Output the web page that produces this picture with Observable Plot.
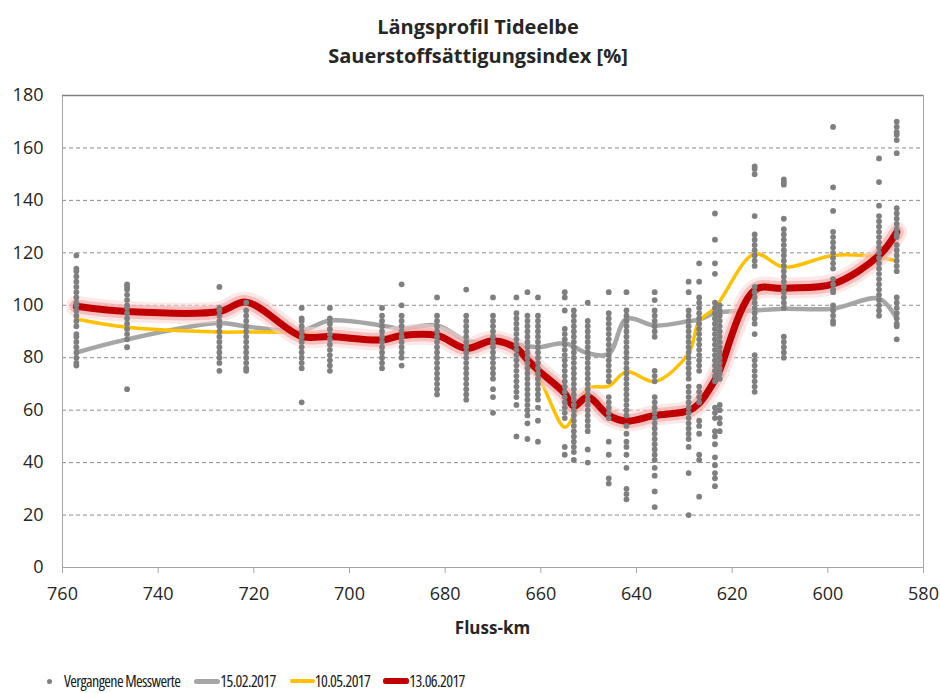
<!DOCTYPE html>
<html>
<head>
<meta charset="utf-8">
<script src="https://cdn.jsdelivr.net/npm/d3@7"></script>
<script src="https://cdn.jsdelivr.net/npm/@observablehq/plot@0.6"></script>
<style>
  html, body { margin: 0; padding: 0; background: #fff; }
  #wrap { position: relative; width: 940px; height: 693px; font-family: "Open Sans", sans-serif; color: #262626; }
  #title { height: 80px; width: 940px; position: relative; }
  #title div { position: absolute; left: 0; width: 956px; text-align: center; font-weight: bold; font-size: 20px; white-space: nowrap; }
  #xlabel { height: 35px; width: 940px; position: relative; }
  #xlabel div { position: absolute; left: 62px; width: 861px; text-align: center; font-weight: bold; font-size: 17px; top: 6px; }
  #legend { height: 48px; width: 940px; display: flex; align-items: center; padding-left: 47px; padding-top: 24px; box-sizing: border-box; }
  .lg-text { font-size: 16px; font-stretch: 75%; letter-spacing: -0.6px; white-space: nowrap; line-height: 22px; color: #1a1a1a; }
  .lg-line { height: 5px; border-radius: 2.5px; flex: none; margin-left: 14px; }
  .lg-dot { width: 5px; height: 5px; border-radius: 50%; background: #7f7f7f; margin-right: 12px; flex: none; }
</style>
</head>
<body>
<div id="wrap">
  <div id="title">
    <div style="top:13px">Längsprofil Tideelbe</div>
    <div style="top:42px">Sauerstoffsättigungsindex [%]</div>
  </div>
  <div id="chart"></div>
  <div id="xlabel"><div>Fluss-km</div></div>
  <div id="legend">
    <div class="lg-dot"></div>
    <span class="lg-text">Vergangene Messwerte</span>
    <div class="lg-line" style="width:26px;background:#a6a6a6"></div>
    <span class="lg-text">15.02.2017</span>
    <div class="lg-line" style="width:25px;background:#ffc000;height:4px"></div>
    <span class="lg-text">10.05.2017</span>
    <div class="lg-line" style="width:26px;background:#c00000;height:6px;margin-left:13px"></div>
    <span class="lg-text">13.06.2017</span>
  </div>
</div>
<script>
// Tick labels
const xTicks = [760, 740, 720, 700, 680, 660, 640, 620, 600, 580];
const yTicks = [0, 20, 40, 60, 80, 100, 120, 140, 160, 180];
const gridTicks = [20, 40, 60, 80, 100, 120, 140, 160];

// Measuring stations (Fluss-km) and past measured values (Vergangene Messwerte)
const stationKm = [757.1, 746.5, 727.2, 721.6, 710.0, 704.1, 693.2, 689.1, 681.7, 675.6, 670.0, 665.1, 662.8, 660.6, 655.0, 653.1, 650.2, 645.8, 642.1, 636.2, 629.1, 626.9, 623.6, 622.6, 615.3, 609.2, 598.9, 589.3, 585.6];
const pastValues = [
  [119,114,113,111,109,107,105,103,101,100,98,96,94,92,89,88,86,84,82,80,78,77],
  [108,107,106,104,102,100,99,97,95,93,91,89,87,84,68],
  [107,99,98,96,94,92,90,88,86,84,82,80,78,75],
  [101,98,96,94,92,90,88,86,84,82,80,78,76,75],
  [99,95,94,92,90,88,86,84,82,80,78,76,63],
  [99,95,93,91,89,87,85,83,81,79,77,75],
  [99,96,94,92,90,88,86,84,82,80,78,76],
  [108,100,96,94,92,90,88,86,84,82,80,77],
  [103,96,94,92,90,88,86,84,82,80,78,76,74,72,70,68,66],
  [106,96,94,92,90,88,86,84,82,80,78,76,74,72,70,68,66,64],
  [103,96,94,92,90,88,86,84,82,80,78,76,74,72,68,65,59],
  [103,97,95,93,91,89,87,85,83,81,79,77,75,73,71,69,67,65,62,50],
  [105,96,94,92,90,88,86,84,82,80,78,76,74,72,70,68,66,64,62,60,58,55,49],
  [103,96,94,92,90,88,86,84,82,80,78,76,74,72,70,68,66,64,61,56,48],
  [105,103,98,91,89,87,85,83,81,79,77,75,73,71,69,67,65,63,61,59,57,46,43],
  [98,96,94,92,90,88,86,84,82,80,78,76,74,72,70,68,66,64,62,60,58,56,54,52,50,48,46,44,41],
  [101,94,92,90,88,86,84,82,80,78,76,74,72,70,68,66,64,62,60,58,56,54,52,45,40],
  [105,97,95,93,91,89,87,85,83,81,79,77,75,73,71,65,63,61,59,57,48,43,34,32],
  [105,98,96,94,92,90,88,86,84,82,80,78,76,74,72,70,68,66,64,62,60,58,54,51,48,46,43,38,30,28,26],
  [105,102,98,96,94,92,90,88,75,73,71,65,63,61,59,57,55,53,51,49,47,45,43,41,38,35,29,23],
  [109,105,98,96,94,92,90,88,86,84,82,80,78,76,74,72,69,67,65,63,61,59,57,55,53,51,49,46,36,20],
  [116,109,103,101,99,97,95,93,91,89,87,85,83,81,79,77,75,69,67,65,63,56,54,51,43,41,27],
  [135,125,116,112,101,99,97,95,93,91,89,87,85,83,81,79,77,75,73,71,61,59,57,52,50,47,42,39,36,34,31],
  [100,98,96,94,92,90,88,86,84,82,80,78,76,74,72,62,60,57,55,52],
  [153,152,150,134,127,125,123,121,119,117,115,107,105,103,101,99,97,95,93,89,81,79,77,75,73,71,69,67],
  [148,147,146,133,129,127,125,123,121,119,117,115,113,111,109,107,105,103,101,99,88,86,84,82,80],
  [168,145,136,128,126,124,122,120,118,116,114,110,108,106,105,100,98,96,94,93],
  [156,147,138,134,132,130,128,126,124,122,120,118,116,114,112,110,108,106,104,102,100,98,96],
  [170,168,166,165,163,158,137,135,133,131,129,127,126,123,121,119,117,115,113,103,101,99,97,95,93,92,87]
];

// 15.02.2017
const febKm  = [757.1, 746.5, 727.2, 721.6, 710.0, 704.1, 693.2, 689.1, 681.7, 675.6, 670.0, 665.1, 660.6, 655.0, 650.2, 645.8, 642.1, 636.2, 629.1, 626.9, 623.6, 615.3, 609.2, 598.9, 589.3, 585.6];
const febVal = [82, 87, 93.2, 91.9, 90.4, 94.2, 92.3, 91, 92.3, 86.6, 85.6, 85, 84, 85.5, 81.7, 81.5, 94.8, 92.3, 93.9, 94.5, 97, 98, 98.7, 98.7, 102.5, 95];
// 10.05.2017
const mayKm  = [757.1, 746.5, 727.2, 721.6, 710.0, 704.1, 693.2, 689.1, 681.7, 675.6, 670.0, 665.1, 660.6, 655.0, 653.1, 650.2, 645.8, 642.1, 636.2, 629.1, 626.9, 623.6, 615.3, 609.2, 598.9, 589.3, 585.6];
const mayVal = [94.8, 91.6, 89.8, 89.8, 89.5, 88.5, 87.5, 89, 89, 84, 86, 83, 73, 53.5, 58, 68.3, 69.2, 74.7, 70.9, 81.7, 93.9, 99, 119.6, 114.5, 119, 118.3, 116.8];
// 13.06.2017
const junKm  = [757.1, 746.5, 727.2, 721.6, 710.0, 704.1, 693.2, 689.1, 681.7, 675.6, 670.0, 665.1, 662.8, 660.6, 655.0, 653.1, 650.2, 645.8, 642.1, 636.2, 629.1, 626.9, 623.6, 622.6, 615.3, 609.2, 598.9, 589.3, 585.6];
const junVal = [99.6, 97.6, 97.6, 101.2, 88.1, 88.1, 86.8, 88.5, 88.5, 83.6, 86.5, 83.6, 79.2, 75.3, 66.4, 61.5, 65, 58, 55.8, 58, 59.8, 62.6, 71.5, 75.3, 105.8, 106.5, 108.1, 119, 127.9];

const dots = stationKm.flatMap((km, i) => pastValues[i].map(v => ({km, v})));
const series = (kms, vals) => kms.map((km, i) => ({km, v: vals[i]}));
const feb = series(febKm, febVal);
const may = series(mayKm, mayVal);
const jun = series(junKm, junVal);

const chart = Plot.plot({
  width: 940,
  height: 530,
  marginTop: 15,
  marginBottom: 43,
  marginLeft: 62,
  marginRight: 17,
  style: {fontFamily: "Open Sans, sans-serif", fontSize: "18px", color: "#262626", background: "white", overflow: "visible"},
  x: {domain: [760, 580]},
  y: {domain: [0, 180]},
  marks: [
    Plot.gridY(gridTicks, {stroke: "#8c8c8c", strokeOpacity: 1, strokeDasharray: "4,3"}),
    Plot.line(feb, {x: "km", y: "v", stroke: "#a6a6a6", strokeWidth: 4.5, curve: "catmull-rom"}),
    Plot.line(may, {x: "km", y: "v", stroke: "#ffc000", strokeWidth: 3.5, curve: "catmull-rom"}),
    Plot.line(jun, {x: "km", y: "v", stroke: "#fbd6d6", strokeWidth: 21, strokeOpacity: 0.55, curve: "catmull-rom"}),
    Plot.line(jun, {x: "km", y: "v", stroke: "#f2a3a3", strokeWidth: 14, strokeOpacity: 0.6, curve: "catmull-rom"}),
    Plot.line(jun, {x: "km", y: "v", stroke: "#c00000", strokeWidth: 7, curve: "catmull-rom"}),
    Plot.dot(dots, {x: "km", y: "v", r: 2.9, fill: "#7f7f7f"}),
    Plot.frame({stroke: "#a6a6a6"}),
    Plot.ruleY([180], {stroke: "#7f7f7f", strokeWidth: 1.5}),
    Plot.axisY(yTicks, {tickSize: 0, tickPadding: 19, fontSize: 18, fill: "#262626", label: null}),
    Plot.axisX(xTicks, {tickSize: 6, tickPadding: 14, fontSize: 18, stroke: "#a6a6a6", fill: "#262626", label: null})
  ]
});
document.getElementById("chart").appendChild(chart);
</script>
</body>
</html>
